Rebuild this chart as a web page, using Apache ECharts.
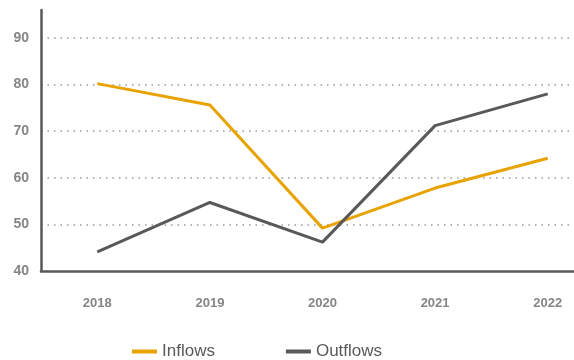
<!DOCTYPE html>
<html><head><meta charset="utf-8">
<script src="https://cdn.jsdelivr.net/npm/echarts@6/dist/echarts.min.js"></script>
<style>html,body{margin:0;padding:0;background:#fff}#c{width:574px;height:360px}</style>
</head><body><div id="c"></div>
<script>
const years = ['2018','2019','2020','2021','2022'];
const inflows = [80.2, 75.6, 49.2, 57.8, 64.2];
const outflows = [44.1, 54.7, 46.2, 71.2, 78.0];
const chart = echarts.init(document.getElementById('c'));
chart.setOption({
  animation: false,
  grid: {left: 41, top: 10, width: 563, bottom: 89, containLabel: false, outerBoundsMode: 'none'},
  legend: {
    bottom: -5, left: 127, itemWidth: 25, itemHeight: 4, itemGap: 71,
    icon: 'rect',
    textStyle: {fontFamily: 'Liberation Sans', fontSize: 17, color: '#595959'},
    data: ['Inflows','Outflows']
  },
  xAxis: {
    type: 'category', data: years, boundaryGap: true,
    axisLine: {lineStyle: {color: '#595959', width: 2.5}},
    axisTick: {show: false},
    axisLabel: {margin: 26, fontFamily: 'Liberation Sans', fontWeight: 'bold', fontSize: 13, color: '#858585'}
  },
  yAxis: {
    type: 'value', min: 40, max: 96, interval: 10,
    axisLine: {show: true, lineStyle: {color: '#595959', width: 2.5}},
    axisTick: {show: false},
    axisLabel: {margin: 12, showMaxLabel: false, fontFamily: 'Liberation Sans', fontWeight: 'bold', fontSize: 14, color: '#858585'},
    splitLine: {show: true, showMinLine: false, showMaxLine: false, lineStyle: {color: '#9a9a9a', type: [1.5, 5], width: 1.5}}
  },
  series: [
    {name: 'Inflows', type: 'line', data: inflows, symbol: 'none', itemStyle: {color: '#e8a300'}, lineStyle: {color: '#e8a300', width: 3}},
    {name: 'Outflows', type: 'line', data: outflows, symbol: 'none', itemStyle: {color: '#595959'}, lineStyle: {color: '#595959', width: 3}}
  ]
});
</script></body></html>
